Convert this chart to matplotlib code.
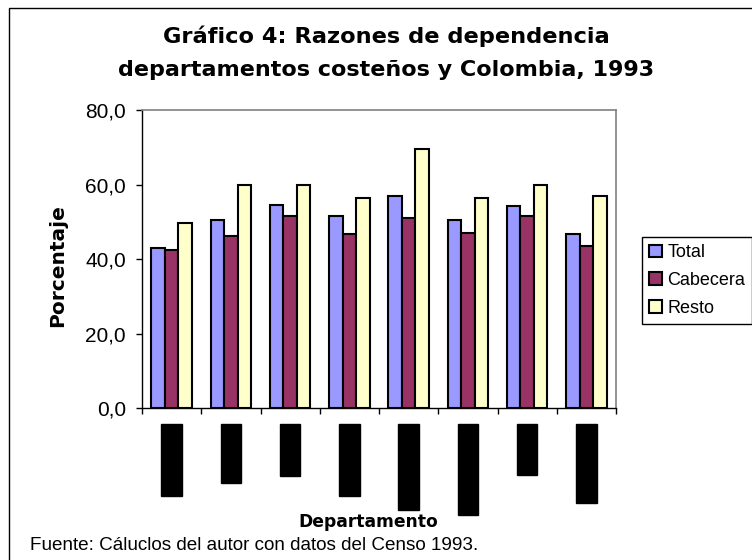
import numpy as np
import matplotlib
matplotlib.use("Agg")
import matplotlib.pyplot as plt
from matplotlib.patches import Rectangle

# data
departamentos = ["Atlántico", "Bolívar", "Cesar", "Córdoba", "La Guajira",
                 "Magdalena", "Sucre", "Colombia"]
total = [42.9, 50.4, 54.6, 51.5, 56.9, 50.4, 54.2, 46.7]
cabecera = [42.4, 46.2, 51.5, 46.7, 51.0, 47.1, 51.5, 43.6]
resto = [49.8, 60.0, 60.0, 56.3, 69.6, 56.3, 60.0, 56.9]
yticks = [0, 20, 40, 60, 80]
series = [("Total", total, "#9999FF"),
          ("Cabecera", cabecera, "#993366"),
          ("Resto", resto, "#FFFFCC")]

W, H = 752, 560
fig = plt.figure(figsize=(W / 100, H / 100), dpi=100)

# outer chart frame
fig.patches.append(Rectangle((9 / W, -0.05), 1.1, 1 - 8 / H + 0.05,
                             transform=fig.transFigure, fill=False,
                             edgecolor="black", linewidth=1.0))

ax = fig.add_axes([142 / W, 1 - 408.3 / H, 474 / W, 298.3 / H])

x = np.arange(len(departamentos))
bw = 0.229
for i, (name, vals, col) in enumerate(series):
    ax.bar(x + (i - 1) * bw, vals, bw, color=col, edgecolor="black",
           linewidth=1.5, label=name)

ax.set_xlim(-0.5, len(departamentos) - 0.5)
ax.set_ylim(0, 80)
ax.set_yticks(yticks)
ax.set_yticklabels([f"{v:.1f}".replace(".", ",") for v in yticks],
                   family="Liberation Sans", fontsize=15)
ax.tick_params(axis="y", direction="out", length=4.5, width=1, pad=7)

# category boundaries as ticks, names as labels
ax.set_xticks(np.arange(-0.5, len(departamentos)), minor=True)
ax.set_xticks(x)
ax.set_xticklabels(departamentos, rotation=90, family="Liberation Sans",
                   fontsize=12.5, color="black")
ax.tick_params(axis="x", which="major", length=0, pad=13)
ax.tick_params(axis="x", which="minor", direction="out", length=4.5, width=1)
for lbl in ax.get_xticklabels():
    lbl.set_bbox(dict(facecolor="black", edgecolor="black", pad=2))

for s in ["top", "right"]:
    ax.spines[s].set_color("#808080")
    ax.spines[s].set_linewidth(1.2)
for s in ["left", "bottom"]:
    ax.spines[s].set_color("black")
    ax.spines[s].set_linewidth(1.0)

fig.text(386 / W, 1 - 36 / H, "Gráfico 4: Razones de dependencia",
         ha="center", va="center", family="DejaVu Sans", weight="bold",
         fontsize=16.2)
fig.text(386 / W, 1 - 70 / H, "departamentos costeños y Colombia, 1993",
         ha="center", va="center", family="DejaVu Sans", weight="bold",
         fontsize=16)

fig.text(58 / W, 1 - 266 / H, "Porcentaje", rotation=90, ha="center",
         va="center", family="DejaVu Sans", weight="bold", fontsize=14.5)
fig.text(368 / W, 1 - 522 / H, "Departamento", ha="center", va="center",
         family="DejaVu Sans", weight="bold", fontsize=12.3)
fig.text(30 / W, 1 - 546 / H,
         "Fuente: Cáluclos del autor con datos del Censo 1993.",
         ha="left", va="center", family="Liberation Sans", fontsize=13.6)

leg = fig.legend(loc="upper left", bbox_to_anchor=(642 / W, 1 - 237 / H),
                 prop={"family": "Liberation Sans", "size": 13},
                 fancybox=False, edgecolor="black", framealpha=1,
                 handlelength=0.7, handleheight=0.7, handletextpad=0.3,
                 labelspacing=0.6, borderpad=0.4, borderaxespad=0)
leg.get_frame().set_linewidth(1.0)

fig.savefig("out.png", dpi=100)
